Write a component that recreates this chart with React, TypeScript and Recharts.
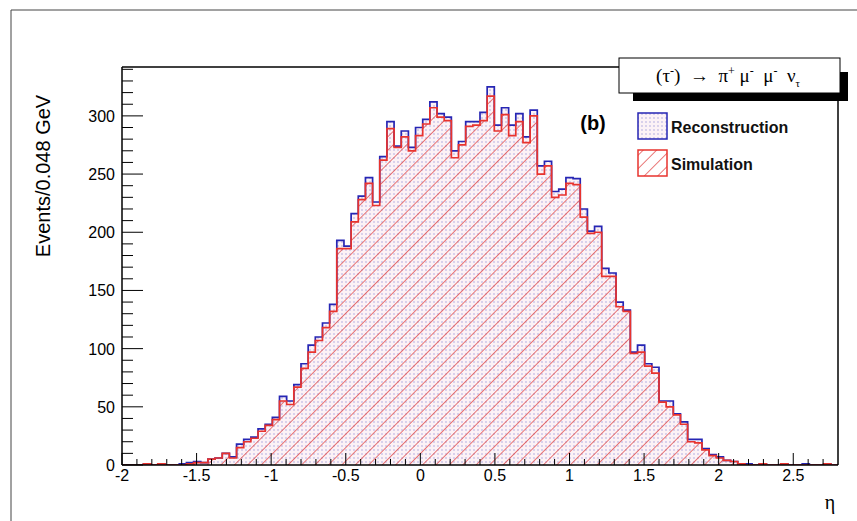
import { ComposedChart, Area, XAxis, YAxis } from 'recharts'

// 100 bins of 0.048 from -2 to 2.8
const ETA_MIN = -2
const ETA_MAX = 2.8
const BIN_W = 0.048

const RECO = [
  0, 0, 0, 1, 0, 1, 0, 0, 1, 2,
  3, 2, 5, 6, 10, 7, 18, 22, 24, 31,
  35, 41, 59, 55, 69, 87, 103, 110, 122, 138,
  193, 188, 216, 231, 247, 226, 265, 295, 274, 287,
  273, 290, 297, 312, 302, 299, 270, 278, 295, 295,
  303, 325, 292, 307, 292, 302, 282, 305, 257, 261,
  235, 237, 247, 246, 220, 201, 205, 169, 165, 140,
  133, 97, 103, 87, 84, 55, 55, 44, 37, 22,
  22, 14, 9, 7, 4, 3, 1, 1, 0, 1,
  0, 0, 1, 0, 0, 1, 0, 0, 1, 0,
]

const SIM = [
  0, 0, 0, 1, 0, 1, 0, 0, 0, 1,
  2, 2, 5, 6, 10, 6, 15, 20, 23, 29,
  34, 39, 55, 52, 67, 83, 97, 107, 118, 132,
  186, 186, 209, 228, 242, 223, 262, 289, 273, 282,
  270, 283, 293, 307, 299, 296, 264, 275, 291, 292,
  296, 317, 287, 301, 283, 295, 277, 300, 250, 257,
  230, 232, 242, 241, 213, 199, 200, 162, 162, 136,
  132, 96, 97, 85, 79, 54, 50, 43, 35, 20,
  19, 13, 8, 6, 4, 3, 1, 0, 0, 1,
  0, 0, 1, 0, 0, 0, 0, 0, 1, 0,
]

const X_TICKS = Array.from({ length: 48 }, (_, k) => Math.round((ETA_MIN + 0.1 * k) * 10) / 10)
const Y_TICKS = Array.from({ length: 35 }, (_, k) => k * 10)

const BLUE = '#2626b4'
const RED = '#e8332e'
const FONT = '"Liberation Sans", Arial, Helvetica, sans-serif'
const SERIF = '"Liberation Serif", "Times New Roman", serif'

const data = Array.from({ length: RECO.length + 1 }, (_, i) => ({
  x: ETA_MIN + BIN_W * i,
  reco: RECO[Math.min(i, RECO.length - 1)],
  sim: SIM[Math.min(i, SIM.length - 1)],
}))

function XTick(props: any) {
  const { x, y, payload } = props
  const v = payload.value
  const major = Math.abs(v * 2 - Math.round(v * 2)) < 1e-6
  return (
    <g>
      <line x1={x} x2={x} y1={y} y2={y - (major ? 12 : 6)} stroke="#000" strokeWidth={1} />
      {major && (
        <text x={x} y={y + 16} textAnchor="middle" fontSize={16} fontFamily={FONT} fill="#000">
          {String(v)}
        </text>
      )}
    </g>
  )
}

function YTick(props: any) {
  const { x, y, payload } = props
  const v = payload.value
  const major = v % 50 === 0
  return (
    <g>
      <line x1={x} x2={x + (major ? 21 : 11)} y1={y} y2={y} stroke="#000" strokeWidth={1} />
      {major && (
        <text x={x - 7} y={y + 6} textAnchor="end" fontSize={16} fontFamily={FONT} fill="#000">
          {v}
        </text>
      )}
    </g>
  )
}

function Patterns({ prefix }: { prefix: string }) {
  return (
    <defs>
      <pattern id={prefix + 'dots'} width={4} height={4} patternUnits="userSpaceOnUse">
        <rect width={4} height={4} fill="#fcf2f6" />
        <circle cx={2} cy={2} r={0.7} fill="#7070cc" opacity={0.7} />
      </pattern>
      <pattern id={prefix + 'hatch'} width={9.5} height={9.5} patternUnits="userSpaceOnUse" patternTransform="rotate(45)">
        <line x1={0} y1={0} x2={0} y2={9.5} stroke="#e04040" strokeWidth={1.4} />
      </pattern>
    </defs>
  )
}

export default function App() {
  return (
    <div style={{ position: 'absolute', left: 0, top: 0, width: 857, height: 521, background: '#fff' }}>
      <ComposedChart
        width={857}
        height={521}
        data={data}
        margin={{ top: 67, right: 19, bottom: 26, left: 0 }}
      >
        <Patterns prefix="c-" />
        <XAxis
          dataKey="x"
          type="number"
          domain={[ETA_MIN, ETA_MAX]}
          ticks={X_TICKS}
          interval={0}
          tickSize={0}
          tickMargin={0}
          height={30}
          axisLine={{ stroke: '#000', strokeWidth: 1.5 }}
          tick={(p: any) => <XTick {...p} />}
          allowDataOverflow
        />
        <YAxis
          type="number"
          domain={[0, 342]}
          ticks={Y_TICKS}
          interval={0}
          tickSize={0}
          tickMargin={0}
          width={122}
          axisLine={{ stroke: '#000', strokeWidth: 1.5 }}
          tick={(p: any) => <YTick {...p} />}
          allowDataOverflow
        />
        <Area
          dataKey="reco"
          type="stepAfter"
          baseValue={0}
          stroke={BLUE}
          strokeWidth={1.7}
          fill="url(#c-dots)"
          fillOpacity={1}
          dot={false}
          activeDot={false}
          isAnimationActive={false}
        />
        <Area
          dataKey="sim"
          type="stepAfter"
          baseValue={0}
          stroke={RED}
          strokeWidth={1.7}
          fill="url(#c-hatch)"
          fillOpacity={1}
          dot={false}
          activeDot={false}
          isAnimationActive={false}
        />
      </ComposedChart>

      <svg
        width={857}
        height={521}
        style={{ position: 'absolute', left: 0, top: 0, pointerEvents: 'none' }}
      >
        <Patterns prefix="l-" />
        {/* canvas border */}
        <line x1={11} y1={10} x2={857} y2={10} stroke="#444" strokeWidth={1} />
        <line x1={11} y1={10} x2={11} y2={521} stroke="#444" strokeWidth={1} />

        {/* frame top / right */}
        <line x1={122} y1={67} x2={838} y2={67} stroke="#000" strokeWidth={1.5} />
        <line x1={838} y1={67} x2={838} y2={465} stroke="#000" strokeWidth={1.5} />

        {/* title box with shadow */}
        <rect x={633} y={72} width={215} height={29} fill="#000" />
        <rect x={619} y={58} width={221} height={35} fill="#fff" stroke="#000" strokeWidth={1} />
        <text
          x={728}
          y={82}
          textAnchor="middle"
          fontSize={19}
          fontFamily={SERIF}
          fill="#000"
          style={{ whiteSpace: 'pre' }}
        >
          {'(τ'}
          <tspan fontSize={12} dy={-7}>-</tspan>
          <tspan dy={7}>{')  →  π'}</tspan>
          <tspan fontSize={12} dy={-7}>+</tspan>
          <tspan dy={7}>{' μ'}</tspan>
          <tspan fontSize={12} dy={-7}>-</tspan>
          <tspan dy={7}>{'  μ'}</tspan>
          <tspan fontSize={12} dy={-7}>-</tspan>
          <tspan dy={7}>{'  ν'}</tspan>
          <tspan fontSize={11} dy={5}>τ</tspan>
        </text>

        <text x={593} y={130} textAnchor="middle" fontSize={20} fontWeight="bold" fontFamily={FONT} fill="#000">
          (b)
        </text>

        {/* legend */}
        <rect x={638} y={113} width={29} height={26} fill="url(#l-dots)" stroke={BLUE} strokeWidth={1.5} />
        <text x={671} y={133} fontSize={16} fontWeight="bold" fontFamily={FONT} fill="#111">
          Reconstruction
        </text>
        <rect x={638} y={150} width={29} height={26} fill="url(#l-hatch)" stroke={RED} strokeWidth={1.5} />
        <text x={671} y={170} fontSize={16} fontWeight="bold" fontFamily={FONT} fill="#111">
          Simulation
        </text>

        {/* axis titles */}
        <text
          x={45}
          y={176}
          transform="rotate(-90 45 176)"
          textAnchor="middle"
          dominantBaseline="middle"
          fontSize={20}
          fontFamily={FONT}
          fill="#000"
        >
          Events/0.048 GeV
        </text>
        <text x={830} y={509} textAnchor="middle" fontSize={20} fontFamily={SERIF} fill="#000">
          η
        </text>
      </svg>
    </div>
  )
}
